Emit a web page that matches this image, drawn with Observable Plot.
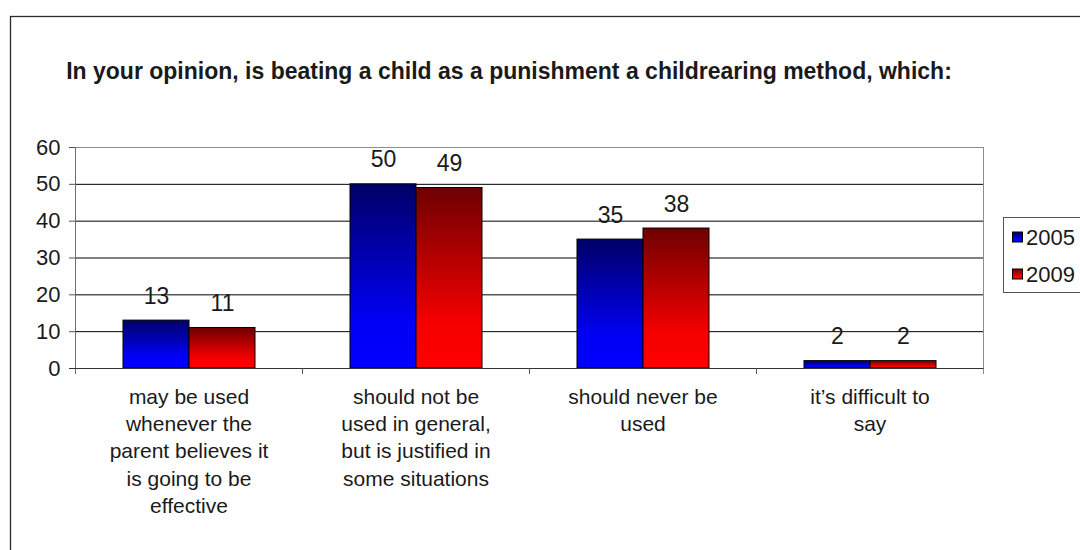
<!DOCTYPE html>
<html>
<head>
<meta charset="utf-8">
<script src="https://cdn.jsdelivr.net/npm/d3@7"></script>
<script src="https://cdn.jsdelivr.net/npm/@observablehq/plot@0.6"></script>
<style>
  html, body { margin: 0; padding: 0; background: #fff; overflow: hidden; }
  #chart { width: 1080px; height: 550px; }
</style>
</head>
<body>
<div id="chart"></div>
<script>
const titleText = "In your opinion, is beating a child as a punishment a childrearing method, which:";
const categories = ["may", "shouldNotGeneral", "never", "difficult"];
const categoryLabels = [
  "may be used\nwhenever the\nparent believes it\nis going to be\neffective",
  "should not be\nused in general,\nbut is justified in\nsome situations",
  "should never be\nused",
  "it\u2019s difficult to\nsay"
];
const years = ["2005", "2009"];
const values2005 = [13, 50, 35, 2];
const values2009 = [11, 49, 38, 2];
const yTicks = [0, 10, 20, 30, 40, 50, 60];

const data = categories.flatMap((c, i) => [
  {cat: c, year: years[0], value: values2005[i]},
  {cat: c, year: years[1], value: values2009[i]}
]);
const catData = categories.map((c, i) => ({cat: c, label: categoryLabels[i]}));

const FONT = "'Liberation Sans', Arial, Helvetica, sans-serif";

const plot = Plot.plot({
  width: 1080,
  height: 550,
  marginTop: 147,
  marginBottom: 182,
  marginLeft: 73,
  marginRight: 96,
  style: {fontFamily: FONT, fontSize: "20px", color: "#1a1a1a", background: "#fff"},
  fx: {domain: categories, padding: 0, axis: null},
  x: {domain: years, paddingInner: 0, paddingOuter: 0.7, axis: null},
  y: {domain: [0, 60]},
  color: {domain: years, range: ["url(#gBlue)", "url(#gRed)"]},
  marks: [
    Plot.ruleY(yTicks.filter(t => t > 0 && t < 60), {stroke: "#000", strokeWidth: 1}),
    Plot.ruleY([60], {stroke: "#8c8c8c", strokeWidth: 1}),
    Plot.axisY({ticks: yTicks, tickSize: 6, tickPadding: 9, fontSize: 22, tickFormat: d => String(d), stroke: "#555", label: null}),
    Plot.barY(data, {fx: "cat", x: "year", y: "value", fill: "year", stroke: "#000", strokeWidth: 1}),
    Plot.text(data, {fx: "cat", x: "year", y: "value", text: d => String(d.value), dy: -17, lineAnchor: "bottom", fontSize: 23, fill: "#1a1a1a"}),
    Plot.text(catData, {fx: "cat", x: null, y: null, text: "label", frameAnchor: "bottom", lineAnchor: "top", dy: 16, lineHeight: 1.3, fontSize: 21, fill: "#1a1a1a"})
  ]
});

document.getElementById("chart").appendChild(plot);

const svg = d3.select(plot);
const defs = svg.insert("defs", ":first-child");
const gb = defs.append("linearGradient").attr("id", "gBlue").attr("x1", 0).attr("y1", 0).attr("x2", 0).attr("y2", 1);
gb.append("stop").attr("offset", "0%").attr("stop-color", "#000066");
gb.append("stop").attr("offset", "75%").attr("stop-color", "#0000f5");
gb.append("stop").attr("offset", "100%").attr("stop-color", "#0000ff");
const gr = defs.append("linearGradient").attr("id", "gRed").attr("x1", 0).attr("y1", 0).attr("x2", 0).attr("y2", 1);
gr.append("stop").attr("offset", "0%").attr("stop-color", "#6e0000");
gr.append("stop").attr("offset", "75%").attr("stop-color", "#f50000");
gr.append("stop").attr("offset", "100%").attr("stop-color", "#ff0000");

const yS = plot.scale("y");
const fxS = plot.scale("fx");
const y0 = yS.apply(0), yTop = yS.apply(60);
let edges;
if (fxS && fxS.apply) {
  edges = fxS.domain.map(d => fxS.apply(d));
  edges.push(edges[edges.length - 1] + fxS.bandwidth);
} else {
  const step = (1080 - 73 - 96) / categories.length;
  edges = d3.range(categories.length + 1).map(i => 73 + i * step);
}
const xL = edges[0], xR = edges[edges.length - 1];

const g = svg.append("g").attr("fill", "none");
g.append("line").attr("x1", xL + 0.5).attr("x2", xL + 0.5).attr("y1", yTop).attr("y2", y0 + 6).attr("stroke", "#6b6b6b");
g.append("line").attr("x1", xR + 0.5).attr("x2", xR + 0.5).attr("y1", yTop).attr("y2", y0 + 6).attr("stroke", "#8c8c8c");
g.append("line").attr("x1", xL - 6).attr("x2", xR + 0.5).attr("y1", y0 + 0.5).attr("y2", y0 + 0.5).attr("stroke", "#333");
edges.slice(1, -1).forEach(x => {
  g.append("line").attr("x1", x + 0.5).attr("x2", x + 0.5).attr("y1", y0).attr("y2", y0 + 6).attr("stroke", "#555");
});

svg.append("rect").attr("x", 10.5).attr("y", 16.5).attr("width", 1200).attr("height", 700)
  .attr("fill", "none").attr("stroke", "#2a2a2a").attr("stroke-width", 1.3);

svg.append("text").attr("x", 509).attr("y", 79).attr("text-anchor", "middle")
  .attr("font-family", FONT).attr("font-weight", "bold").attr("font-size", 23).attr("fill", "#1a1a1a")
  .text(titleText);

const lg = svg.append("g").attr("font-family", FONT).attr("font-size", 22).attr("fill", "#1a1a1a").attr("text-anchor", "start");
lg.append("rect").attr("x", 1003.5).attr("y", 217.5).attr("width", 150).attr("height", 75)
  .attr("fill", "#fff").attr("stroke", "#555");
years.forEach((yr, i) => {
  const cy = 237 + i * 37;
  lg.append("rect").attr("x", 1012.5).attr("y", cy - 5).attr("width", 10).attr("height", 10)
    .attr("fill", i === 0 ? "url(#gBlue)" : "url(#gRed)").attr("stroke", "#000");
  lg.append("text").attr("x", 1026).attr("y", cy).attr("dy", "0.36em").attr("text-anchor", "start").text(yr);
});
</script>
</body>
</html>
